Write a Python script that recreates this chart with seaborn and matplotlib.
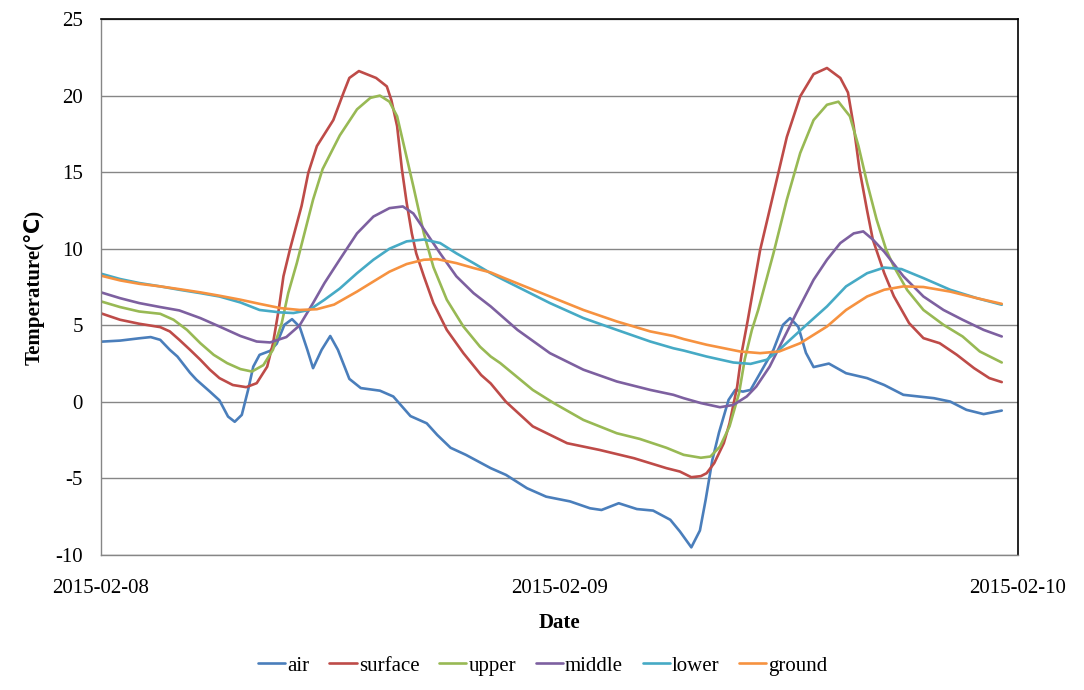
import matplotlib
matplotlib.use("Agg")
import matplotlib.pyplot as plt
import pandas as pd
import seaborn as sns

# ---- data (hours after 2015-02-08 00:00, temperature in deg C) ----
series_names = ["air", "surface", "upper", "middle", "lower", "ground"]
series_colors = ["#4A7EBB", "#BE4B48", "#98B954", "#7D60A0", "#46AAC5", "#F69240"]
x_tick_pos = [0, 24, 48]
x_tick_labels = ["2015-02-08", "2015-02-09", "2015-02-10"]
y_ticks = [-10, -5, 0, 5, 10, 15, 20, 25]

air_t = [0, 1, 2, 2.6, 3.1, 3.6, 4, 4.66, 5, 5.7, 6.2, 6.65, 7.0, 7.37, 7.7,
         7.97, 8.3, 8.85, 9.2, 9.6, 10.0, 10.4, 10.8, 11.1, 11.55, 12.0, 12.4,
         13.0, 13.6, 14.6, 15.3, 16.2, 17.05, 17.6, 18.3, 19.1, 20.4, 21.2, 22.3,
         23.3, 24.55, 25.6, 26.2, 27.1, 28.05, 28.9, 29.8, 30.3, 30.9, 31.35,
         31.65, 32.0, 32.35, 32.85, 33.2, 33.6, 34.0, 34.5, 35.2, 35.7, 36.07,
         36.5, 36.9, 37.3, 38.1, 39.0, 40.1, 41.0, 42.0, 43.6, 44.45, 45.3, 46.2,
         47.15]
air_v = [3.93, 4.0, 4.15, 4.23, 4.05, 3.4, 2.96, 1.9, 1.44, 0.67, 0.1, -0.96,
         -1.3, -0.85, 0.78, 2.3, 3.07, 3.33, 3.8, 5.03, 5.4, 4.9, 3.4, 2.2, 3.4,
         4.3, 3.4, 1.5, 0.9, 0.73, 0.35, -0.93, -1.4, -2.16, -3.0, -3.46, -4.33,
         -4.77, -5.64, -6.19, -6.5, -6.95, -7.06, -6.62, -7.0, -7.1, -7.7, -8.46,
         -9.5, -8.4, -6.4, -3.8, -2.0, 0.13, 0.78, 0.67, 0.78, 1.87, 3.4, 5.03,
         5.47, 4.9, 3.2, 2.27, 2.5, 1.87, 1.55, 1.1, 0.46, 0.24, 0.02, -0.52,
         -0.8, -0.57]

surface_t = [0, 1, 2, 3.1, 3.6, 4.1, 4.66, 5.2, 5.7, 6.2, 6.9, 7.6, 8.15, 8.7,
             9.0, 9.3, 9.55, 9.9, 10.5, 10.85, 11.3, 12.16, 12.7, 13.0, 13.5,
             14.4, 14.96, 15.2, 15.5, 15.75, 16.0, 16.27, 16.5, 16.9, 17.4, 18.1,
             18.97, 19.9, 20.4, 21.2, 22.6, 24.4, 26.1, 27.9, 29.6, 30.3, 30.9,
             31.4, 31.7, 32.1, 32.6, 32.9, 33.3, 33.55, 33.85, 34.5, 35.2, 35.9,
             36.6, 37.3, 38.0, 38.7, 39.1, 39.4, 39.7, 40.1, 40.4, 41.0, 41.5,
             42.3, 43.05, 43.9, 44.8, 45.7, 46.5, 47.15]
surface_v = [5.78, 5.36, 5.1, 4.88, 4.6, 4.05, 3.4, 2.75, 2.1, 1.55, 1.1, 0.96,
             1.22, 2.3, 3.8, 6.0, 8.2, 10.0, 12.8, 14.95, 16.7, 18.4, 20.2, 21.15,
             21.6, 21.15, 20.6, 19.7, 18.0, 15.2, 13.0, 11.0, 9.7, 8.2, 6.45, 4.7,
             3.18, 1.75, 1.2, 0.0, -1.6, -2.7, -3.14, -3.68, -4.33, -4.55, -4.92,
             -4.85, -4.66, -4.0, -2.7, -1.4, 1.0, 3.3, 5.3, 9.9, 13.6, 17.3, 19.95,
             21.4, 21.8, 21.15, 20.2, 18.0, 15.2, 12.5, 10.6, 8.4, 6.9, 5.14, 4.16,
             3.83, 3.07, 2.2, 1.55, 1.29]

upper_t = [0, 1, 2, 3.1, 3.8, 4.5, 5.2, 5.9, 6.6, 7.3, 7.9, 8.5, 9.0, 9.46, 9.8,
           10.25, 11.1, 11.6, 12.5, 13.4, 14.1, 14.6, 15.1, 15.5, 15.9, 16.35,
           16.9, 17.4, 18.1, 18.97, 19.84, 20.4, 20.9, 22.6, 23.7, 25.25, 27.0,
           28.2, 29.6, 30.5, 31.4, 31.9, 32.4, 32.9, 33.4, 33.7, 34.07, 34.4,
           35.2, 35.9, 36.6, 37.3, 38.0, 38.6, 39.2, 39.65, 40.1, 40.6, 41.1,
           41.5, 42.2, 43.05, 44.1, 45.1, 46.0, 47.15]
upper_v = [6.56, 6.19, 5.9, 5.75, 5.36, 4.7, 3.83, 3.07, 2.53, 2.14, 1.98, 2.4,
           3.4, 5.14, 7.1, 9.06, 13.2, 15.2, 17.4, 19.1, 19.85, 20.0, 19.6, 18.65,
           16.5, 14.07, 11.0, 8.8, 6.67, 4.92, 3.6, 2.96, 2.53, 0.78, -0.08,
           -1.18, -2.05, -2.42, -3.0, -3.46, -3.65, -3.57, -2.92, -1.6, 0.57, 2.8,
           4.7, 6.0, 9.7, 13.2, 16.25, 18.4, 19.4, 19.6, 18.65, 16.7, 14.3, 11.9,
           9.93, 8.84, 7.3, 6.0, 5.03, 4.27, 3.29, 2.57]

middle_t = [0, 1, 2, 3.1, 4.1, 5.2, 6.2, 7.3, 8.15, 8.85, 9.7, 10.4, 11.1, 11.7,
            12.5, 13.4, 14.26, 15.1, 15.8, 16.35, 17.05, 17.75, 18.6, 19.5, 20.4,
            21.8, 23.5, 25.25, 27.0, 28.75, 29.96, 30.5, 31.4, 32.4, 33.1, 33.8,
            34.3, 35.0, 35.7, 36.4, 37.3, 38.0, 38.7, 39.4, 39.9, 40.4, 41.0,
            42.0, 43.05, 44.1, 45.1, 46.2, 47.15]
middle_v = [7.15, 6.77, 6.45, 6.19, 5.97, 5.47, 4.92, 4.3, 3.94, 3.88, 4.23, 5.0,
            6.45, 7.76, 9.3, 11.0, 12.1, 12.65, 12.76, 12.3, 11.0, 9.7, 8.2, 7.1,
            6.23, 4.7, 3.18, 2.1, 1.33, 0.78, 0.46, 0.24, -0.08, -0.35, -0.2,
            0.35, 1.0, 2.3, 4.05, 5.8, 7.97, 9.28, 10.37, 11.0, 11.13, 10.6, 9.8,
            8.2, 6.88, 6.0, 5.36, 4.7, 4.27]

lower_t = [0, 1, 2, 3.1, 4.1, 5.2, 6.2, 7.3, 8.3, 9.4, 10.07, 10.9, 11.7, 12.5,
           13.4, 14.26, 15.1, 16.0, 16.9, 17.75, 18.6, 19.5, 20.4, 21.07, 23.5,
           25.25, 27.0, 28.75, 29.96, 30.5, 31.7, 33.1, 34.0, 34.85, 35.5, 36.2,
           36.9, 38.0, 39.0, 40.1, 41.0, 41.9, 43.05, 44.45, 45.85, 47.15]
lower_v = [8.37, 8.02, 7.76, 7.54, 7.32, 7.1, 6.88, 6.49, 6.0, 5.84, 5.8, 6.0,
           6.67, 7.4, 8.4, 9.28, 10.0, 10.48, 10.6, 10.37, 9.7, 9.06, 8.4, 7.97,
           6.45, 5.47, 4.7, 3.94, 3.5, 3.35, 2.96, 2.57, 2.48, 2.75, 3.4, 4.2,
           5.0, 6.23, 7.54, 8.4, 8.77, 8.67, 8.08, 7.32, 6.77, 6.34]

ground_t = [0, 1, 2, 3.1, 4.1, 5.2, 6.2, 7.3, 8.3, 9.4, 10.4, 11.3, 12.2, 13.4,
            14.26, 15.1, 16.0, 16.9, 17.6, 18.6, 19.5, 20.4, 21.07, 23.5, 25.25,
            27.0, 28.75, 29.96, 30.5, 31.7, 33.45, 34.5, 35.5, 36.6, 38.0, 39.0,
            40.1, 41.0, 42.0, 43.05, 44.45, 45.85, 47.15]
ground_v = [8.24, 7.93, 7.71, 7.54, 7.36, 7.15, 6.93, 6.67, 6.4, 6.12, 6.0, 6.05,
            6.35, 7.2, 7.86, 8.5, 9.0, 9.28, 9.32, 9.06, 8.74, 8.45, 8.1, 6.88,
            6.0, 5.25, 4.6, 4.3, 4.1, 3.73, 3.29, 3.18, 3.29, 3.83, 4.92, 6.0,
            6.88, 7.32, 7.54, 7.5, 7.2, 6.77, 6.4]

all_t = [air_t, surface_t, upper_t, middle_t, lower_t, ground_t]
all_v = [air_v, surface_v, upper_v, middle_v, lower_v, ground_v]

frames = [pd.DataFrame({"hour": t, "temp": v, "series": n})
          for n, t, v in zip(series_names, all_t, all_v)]
df = pd.concat(frames, ignore_index=True)

# ---- style ----
sns.set_theme(style="white")
plt.rcParams["font.family"] = ["Liberation Serif", "DejaVu Sans"]
plt.rcParams["text.color"] = "black"
plt.rcParams["axes.labelcolor"] = "black"
plt.rcParams["xtick.color"] = "#868686"
plt.rcParams["ytick.color"] = "#868686"
plt.rcParams["xtick.labelcolor"] = "black"
plt.rcParams["ytick.labelcolor"] = "black"

FS = 15

fig = plt.figure(figsize=(10.84, 6.9), dpi=100)
ax = fig.add_axes([101 / 1084, 1 - 555 / 690, 917 / 1084, 536 / 690])

sns.lineplot(data=df, x="hour", y="temp", hue="series", hue_order=series_names,
             palette=series_colors, estimator=None, sort=True, linewidth=1.9,
             ax=ax)
for ln in ax.get_lines():
    ln.set_solid_joinstyle("round")
    ln.set_solid_capstyle("round")

ax.set_xlim(0, 48)
ax.set_ylim(-10, 25)
ax.set_xticks(x_tick_pos)
ax.set_xticklabels(x_tick_labels)
ax.set_yticks(y_ticks)
ax.set_yticklabels([str(v) for v in y_ticks])

ax.yaxis.grid(True, color="#868686", linewidth=1.0)
ax.xaxis.grid(False)
ax.set_axisbelow(True)

for side in ["left", "bottom"]:
    ax.spines[side].set_color("#868686")
    ax.spines[side].set_linewidth(1.0)
for side in ["top", "right"]:
    ax.spines[side].set_color("black")
    ax.spines[side].set_linewidth(1.2)

ax.tick_params(axis="x", direction="in", length=5, width=1, pad=17, labelsize=FS)
ax.tick_params(axis="y", length=0, pad=13, labelsize=FS)

ax.set_xlabel("Date", fontsize=FS, fontweight="bold")
ax.set_ylabel("Temperature(\u2103)", fontsize=FS, fontweight="bold")
ax.xaxis.set_label_coords(0.5, -0.1076)
ax.yaxis.set_label_coords(-0.061, 0.5)

sns.move_legend(ax, loc="center", bbox_to_anchor=(0.482, -0.207), ncol=6,
                frameon=False, title=None, fontsize=FS, handlelength=1.3,
                handletextpad=0.1, columnspacing=0.95)

fig.savefig("out.png", dpi=100)
